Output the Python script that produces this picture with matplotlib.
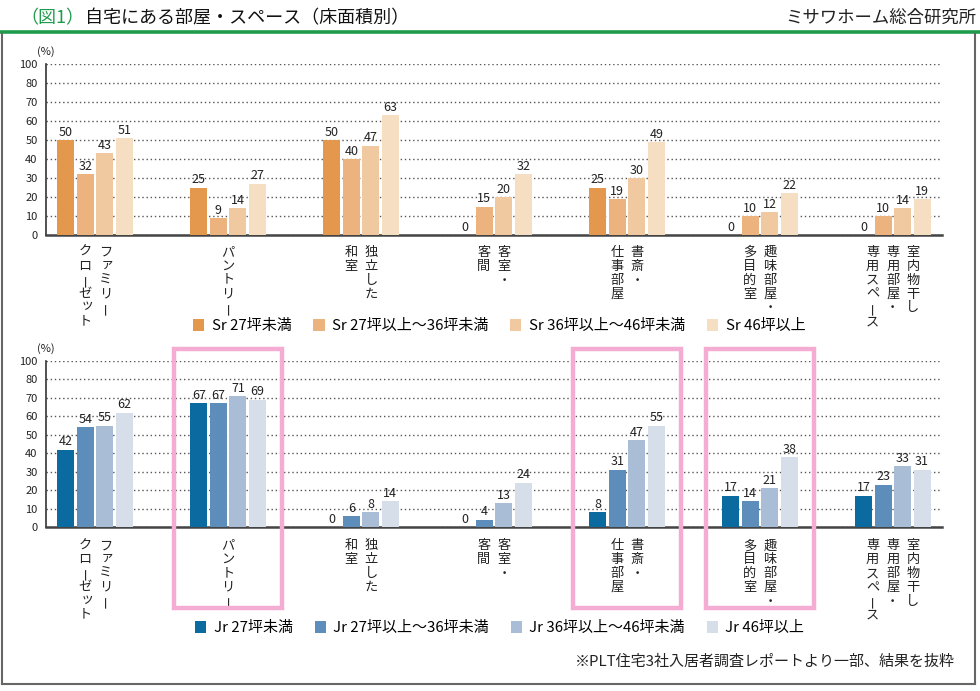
import matplotlib
matplotlib.use("Agg")
import matplotlib.pyplot as plt
import matplotlib.patches as mpatches
import matplotlib.transforms as mtrans
from matplotlib.lines import Line2D

plt.rcParams['font.family'] = ['Noto Sans CJK JP', 'DejaVu Sans']

# --- DATA ---
cat_cols = [["ファミリー", "クローゼット"], ["パントリー"], ["独立した", "和室"],
            ["客室・", "客間"], ["書斎・", "仕事部屋"], ["趣味部屋・", "多目的室"],
            ["室内物干し", "専用部屋・", "専用スペース"]]
ytick_vals = [0, 10, 20, 30, 40, 50, 60, 70, 80, 90]
ytick_labels = ["0", "10", "20", "30", "40", "50", "60", "70", "80", "100"]

sr_labels = ["Sr 27坪未満", "Sr 27坪以上〜36坪未満", "Sr 36坪以上〜46坪未満", "Sr 46坪以上"]
sr_lt27 = [50, 25, 50, 0, 25, 0, 0]
sr_27_36 = [32, 9, 40, 15, 19, 10, 10]
sr_36_46 = [43, 14, 47, 20, 30, 12, 14]
sr_46 = [51, 27, 63, 32, 49, 22, 19]

jr_labels = ["Jr 27坪未満", "Jr 27坪以上〜36坪未満", "Jr 36坪以上〜46坪未満", "Jr 46坪以上"]
jr_lt27 = [42, 67, 0, 0, 8, 17, 17]
jr_27_36 = [54, 67, 6, 4, 31, 14, 23]
jr_36_46 = [55, 71, 8, 13, 47, 21, 33]
jr_46 = [62, 69, 14, 24, 55, 38, 31]

highlight = [1, 4, 5]  # パントリー, 書斎, 趣味部屋

sr_colors = ["#E3984E", "#ECB37E", "#F1C9A1", "#F6DEC3"]
jr_colors = ["#0B6AA0", "#5D8EBB", "#A9BDD6", "#D6DEEA"]

W, H = 980, 691
fig = plt.figure(figsize=(W / 100, H / 100), dpi=100)

SMALL_KANA = "ァィゥェォッャュョ"


def fx(px):
    return px / W


def fy(py):
    return 1 - py / H


def vlabel(ax, x, col, top_pt, step_pt=10.0):
    # one column of vertical (tategaki) text, char by char
    for k, ch in enumerate(col):
        rot = 0
        dx, dy = 0, 0
        if ch == "ー":
            rot, dx = 90, 1.0  # long vowel mark turns vertical
        elif ch in SMALL_KANA:
            dx, dy = 1.5, 1.5
        ax.annotate(ch, (x, 0), xycoords=("data", "axes fraction"),
                    xytext=(dx, top_pt - (k + 0.5) * step_pt + dy),
                    textcoords="offset points", ha="center", va="center",
                    rotation=rot, fontsize=9.5, color="#222")


def draw_chart(ax, series, colors, top_pt):
    n = len(cat_cols)
    step = 0.147
    width = 0.128
    for i, vals in enumerate(series):
        xs = [c + (i - 1.5) * step for c in range(n)]
        ax.bar(xs, vals, width=width, color=colors[i], edgecolor="none", zorder=3)
        for x, v in zip(xs, vals):
            ax.annotate(str(v), (x, v), xytext=(0, 1), textcoords="offset points",
                        ha="center", va="bottom", fontsize=9, color="#222")
    ax.set_xlim(-0.37, n - 1 + 0.37)
    ax.set_ylim(0, 90)
    ax.set_yticks(ytick_vals)
    ax.set_yticklabels(ytick_labels)
    ax.set_xticks([])
    ax.tick_params(axis="y", length=0, labelsize=8, pad=6, colors="#222")
    for s in ["top", "right"]:
        ax.spines[s].set_visible(False)
    ax.spines["left"].set_color("#333")
    ax.spines["left"].set_linewidth(1.2)
    ax.spines["bottom"].set_color("#444")
    ax.spines["bottom"].set_linewidth(1.8)
    ax.yaxis.grid(True, linestyle=(0, (1, 2)), color="#555", linewidth=1)
    ax.set_axisbelow(True)
    ax.annotate("(%)", (0, 1), xycoords="axes fraction", xytext=(0, 9),
                textcoords="offset points", ha="center", va="center",
                fontsize=8, color="#222")
    # columns read right to left
    for c, cols in enumerate(cat_cols):
        k = len(cols)
        for j, col in enumerate(cols):
            off = ((k - 1) / 2 - j) * 0.152
            vlabel(ax, c + off, col, top_pt)


ax1 = fig.add_axes([fx(46), fy(235), fx(942) - fx(46), fy(64) - fy(235)])
draw_chart(ax1, [sr_lt27, sr_27_36, sr_36_46, sr_46], sr_colors, -7.5)

ax2 = fig.add_axes([fx(46), fy(527), fx(942) - fx(46), fy(361) - fy(527)])
draw_chart(ax2, [jr_lt27, jr_27_36, jr_36_46, jr_46], jr_colors, -8.5)

# pink highlight boxes
trans = mtrans.blended_transform_factory(ax2.transData, ax2.transAxes)
for c in highlight:
    r = mpatches.Rectangle((c - 0.405, -0.49), 0.81, 1.565, transform=trans,
                           fill=False, edgecolor="#F5ACD2", linewidth=3.2,
                           clip_on=False, zorder=5)
    ax2.add_patch(r)

# legends
for labels, colors, lx, ly in [(sr_labels, sr_colors, 193, 326),
                               (jr_labels, jr_colors, 195, 628)]:
    handles = [mpatches.Patch(facecolor=col, edgecolor="none") for col in colors]
    fig.legend(handles, labels, loc="center left", bbox_to_anchor=(fx(lx), fy(ly)),
               ncol=4, frameon=False, fontsize=10.8, handlelength=0.75,
               handleheight=0.8, handletextpad=0.5, columnspacing=1.45,
               borderpad=0, borderaxespad=0)

# title bar
fig.text(fx(20), fy(18), "（図1）", color="#1E9C4B", fontsize=13, va="center", ha="left")
fig.text(fx(85), fy(18), "自宅にある部屋・スペース（床面積別）", color="#111",
         fontsize=13, va="center", ha="left")
fig.text(fx(976), fy(18), "ミサワホーム総合研究所", color="#222", fontsize=12.5,
         va="center", ha="right")
fig.add_artist(Line2D([0, 1], [fy(32), fy(32)], color="#1E9C4B", linewidth=2.6))

# frame
fig.add_artist(Line2D([fx(2), fx(2)], [fy(34), fy(684)], color="#666", linewidth=1.5))
fig.add_artist(Line2D([fx(975), fx(975)], [fy(34), fy(684)], color="#666", linewidth=1.5))
fig.add_artist(Line2D([fx(2), fx(975)], [fy(684), fy(684)], color="#666", linewidth=1.5))

# footnote
fig.text(fx(955), fy(662), "※PLT住宅3社入居者調査レポートより一部、結果を抜粋",
         fontsize=10.8, ha="right", va="center", color="#222")

fig.savefig("out.png", dpi=100)
